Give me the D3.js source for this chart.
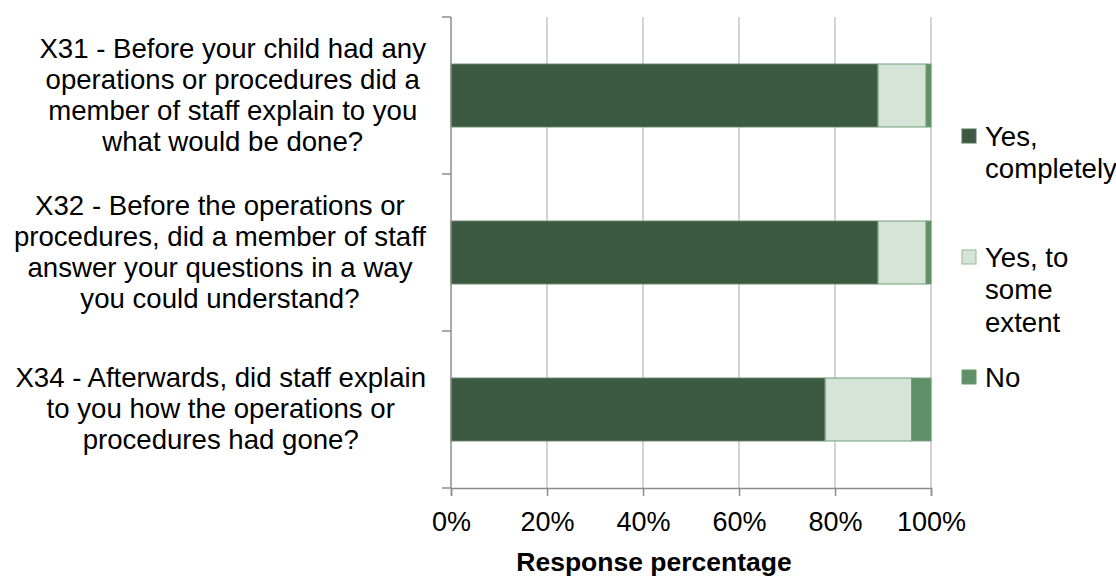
<!DOCTYPE html>
<html><head><meta charset="utf-8">
<script src="https://cdn.jsdelivr.net/npm/d3@7"></script>
<style>
html,body{margin:0;padding:0;background:#fff;}
svg{display:block;font-family:"Liberation Sans",Arial,sans-serif;}
</style></head>
<body><svg id="c" width="1116" height="578"></svg>
<script>
const categories = ["X31", "X32", "X34"];
const categoryLabels = [
  ["X31 - Before your child had any", "operations or procedures did a", "member of staff explain to you", "what would be done?"],
  ["X32 - Before the operations or", "procedures, did a member of staff", "answer your questions in a way", "you could understand?"],
  ["X34 - Afterwards, did staff explain", "to you how the operations or", "procedures had gone?"]
];
const seriesNames = ["Yes, completely", "Yes, to some extent", "No"];
const legendLines = [["Yes,", "completely"], ["Yes, to", "some", "extent"], ["No"]];
const yesCompletely = [89, 89, 78];
const yesSomeExtent = [10, 10, 18];
const no = [1, 1, 4];
const xTicks = [0, 20, 40, 60, 80, 100];
const axisTitle = "Response percentage";

const fills = ["#3C5A41", "#D6E3D7", "#5E8F66"];
const strokes = ["#557459", "#93BA9A", "#6A9A71"];

const svg = d3.select("#c");
const L = 451, R = 931, T = 17, B = 488;
const x = d3.scaleLinear().domain([0, 100]).range([L, R]);
const y = d3.scaleBand().domain(categories).range([T, B]).paddingInner(0.6).paddingOuter(0.3);

// gridlines
svg.append("g").selectAll("line").data(xTicks.slice(1)).join("line")
  .attr("x1", d => x(d)).attr("x2", d => x(d)).attr("y1", T).attr("y2", B)
  .attr("stroke", "#C6C6C6").attr("stroke-width", 1.5);

// stacked bars
const rows = categories.map((c, i) => ({c, vals: [yesCompletely[i], yesSomeExtent[i], no[i]]}));
const stack = d3.stack().keys([0, 1, 2]).value((d, k) => d.vals[k]);
const layers = stack(rows);
layers.forEach((layer, k) => {
  svg.append("g").selectAll("rect").data(layer).join("rect")
    .attr("x", d => x(d[0]))
    .attr("width", d => x(d[1]) - x(d[0]))
    .attr("y", d => y(d.data.c))
    .attr("height", y.bandwidth())
    .attr("fill", fills[k])
    .attr("stroke", strokes[k]).attr("stroke-width", k === 1 ? 1.5 : 1);
});

// y axis
const step = y.step();
const ya = svg.append("g").attr("stroke", "#8C8C8C").attr("stroke-width", 1.5);
ya.append("line").attr("x1", L).attr("x2", L).attr("y1", T).attr("y2", B);
ya.selectAll(".yt").data(d3.range(categories.length + 1)).join("line")
  .attr("x1", L - 9).attr("x2", L).attr("y1", i => T + i * step).attr("y2", i => T + i * step);

// x axis
const xa = svg.append("g").attr("transform", `translate(0,${B})`)
  .call(d3.axisBottom(x).tickValues(xTicks).tickFormat(d => d + "%").tickSize(8).tickPadding(16));
xa.select(".domain").attr("stroke", "#8C8C8C").attr("stroke-width", 1.5);
xa.selectAll(".tick line").attr("stroke", "#8C8C8C").attr("stroke-width", 1.5);
xa.selectAll(".tick text").attr("font-size", 27).attr("fill", "#000")
  .attr("font-family", '"Liberation Sans",Arial,sans-serif');

// category labels
const lh = 31;
categoryLabels.forEach((lines, i) => {
  const g = svg.append("g");
  const cy = y(categories[i]) + y.bandwidth() / 2 - 1;
  const t = g.append("text").attr("font-size", 27.6).attr("text-anchor", "middle").attr("fill", "#000");
  lines.forEach((ln, j) => {
    t.append("tspan").attr("x", 0).attr("y", cy + (j - (lines.length - 1) / 2) * lh).attr("dy", "0.35em").text(ln);
  });
  let maxW = 0;
  t.selectAll("tspan").each(function () { maxW = Math.max(maxW, this.getComputedTextLength()); });
  t.attr("transform", `translate(${426 - maxW / 2},0)`);
});

// axis title
svg.append("text").attr("x", 654).attr("y", 571).attr("text-anchor", "middle")
  .attr("font-size", 26.5).attr("font-weight", "bold").attr("fill", "#000").text(axisTitle);

// legend
const legendY = [136, 257, 377];
seriesNames.forEach((s, k) => {
  const g = svg.append("g");
  g.append("rect").attr("x", 962).attr("y", legendY[k] - 7).attr("width", 14).attr("height", 14)
    .attr("fill", fills[k]).attr("stroke", strokes[k]).attr("stroke-width", 1);
  const t = g.append("text").attr("font-size", 27.6).attr("fill", "#000");
  legendLines[k].forEach((ln, j) => {
    t.append("tspan").attr("x", 985).attr("y", legendY[k] + j * 32.5).attr("dy", "0.35em").text(ln);
  });
});
</script></body></html>
